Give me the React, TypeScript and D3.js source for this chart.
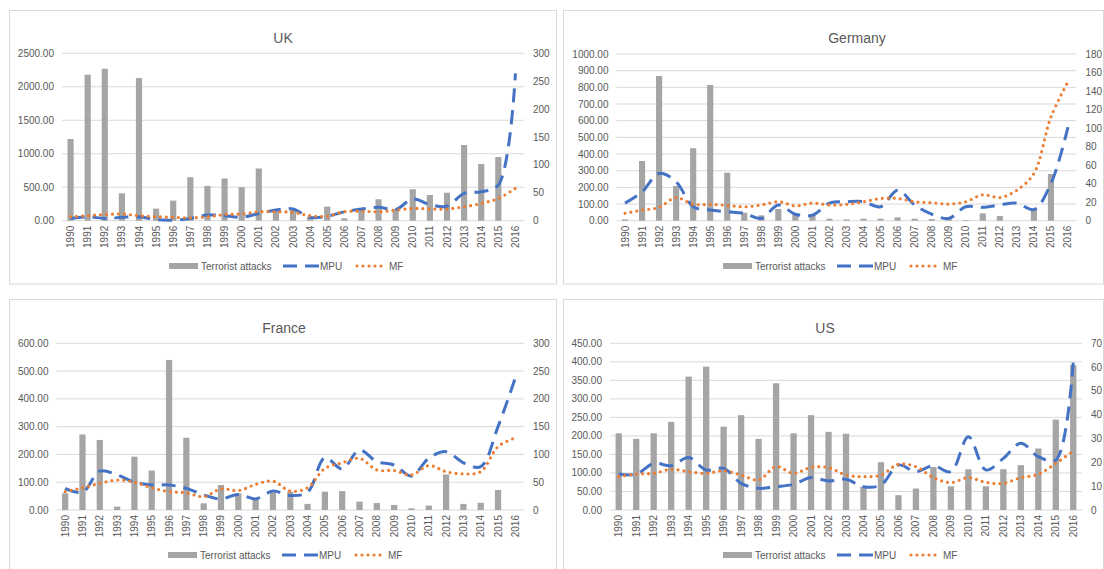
import * as React from 'react';
import * as d3 from 'd3';

// categories
const years = [
  '1990', '1991', '1992', '1993', '1994', '1995', '1996', '1997', '1998',
  '1999', '2000', '2001', '2002', '2003', '2004', '2005', '2006', '2007',
  '2008', '2009', '2010', '2011', '2012', '2013', '2014', '2015', '2016',
];

// UK
const ukAttacks = [1220, 2180, 2270, 410, 2130, 180, 300, 650, 520, 630, 500, 780, 170, 160, 60, 210, 36, 170, 320, 175, 469, 384, 418, 1130, 846, 951, 0];
const ukMPU = [4, 7, 4, 6, 7, 2, 1, 4, 10, 9, 6, 13, 19, 21, 6, 8, 16, 21, 24, 20, 39, 29, 26, 49, 52, 64, 264];
const ukMF = [7, 9, 11, 12, 9, 7, 6, 5, 7, 11, 12, 16, 16, 15, 9, 8, 16, 17, 16, 19, 22, 21, 21, 25, 31, 40, 58];

// Germany
const deAttacks = [8, 358, 868, 208, 435, 814, 288, 48, 32, 70, 44, 40, 12, 8, 12, 12, 20, 12, 10, 20, 4, 44, 28, 0, 72, 280, 0];
const deMPU = [19, 31, 51, 42, 15, 11.5, 9.7, 8, 2.5, 17, 7, 6, 19, 20.5, 20.5, 15, 33, 17, 7, 2.5, 15, 14.4, 17, 19, 12, 40, 101];
const deMF = [8, 11.5, 14.4, 25, 17.6, 17.6, 16.6, 15, 17, 20.5, 16, 19, 17, 17.6, 20.5, 24, 24, 20.5, 19.4, 18, 20.5, 28, 25, 33, 51, 112, 150];

// France
const frAttacks = [60, 272, 252, 12, 192, 142, 540, 260, 24, 90, 60, 42, 64, 66, 22, 66, 68, 30, 25, 18, 6, 16, 128, 22, 26, 72, 0];
const frMPU = [39, 32, 70, 63, 50, 45, 45, 39, 27, 20, 28, 20, 34, 26, 32, 94, 74, 108, 87, 81, 61, 93, 105, 85, 78, 150, 238];
const frMF = [33, 40, 48, 54, 50, 40, 33, 31, 24, 38, 35, 46, 52, 34, 40, 75, 85, 93, 72, 71, 63, 80, 69, 65, 69, 114, 130];

// US
const usAttacks = [207, 192, 207, 238, 360, 387, 225, 256, 192, 342, 207, 256, 211, 206, 63, 129, 40, 58, 116, 64, 110, 64, 110, 121, 166, 244, 391];
const usMPU = [15.1, 15, 19.6, 18.6, 22, 16.8, 17.5, 11.2, 9.1, 9.8, 10.8, 13.6, 12.2, 12.9, 9.8, 10.5, 18.9, 16.1, 18.6, 16.1, 30.8, 16.8, 21.7, 28, 22.4, 21, 62.3];
const usMF = [14, 15.1, 15.4, 17.1, 16.1, 15.4, 16.5, 14.7, 12.6, 18.2, 15.4, 17.9, 17.8, 14.7, 14, 14.7, 19.2, 18.2, 13.6, 11.5, 13.6, 11.6, 11.2, 13.6, 15, 19.6, 24.8];

// legend labels
const legendLabels = ['Terrorist attacks', 'MPU', 'MF'];

const FONT = '"Liberation Sans", Arial, sans-serif';
const TEXT = '#595959';
const GRID = '#D9D9D9';
const BAR = '#A5A5A5';
const BLUE = '#4472C4';
const ORANGE = '#ED7D31';

interface PanelProps {
  title: string;
  attacks: number[];
  mpu: number[];
  mf: number[];
  box: [number, number, number, number];
  plot: { left: number; right: number; top: number; bottom: number };
  leftMax: number;
  leftStep: number;
  rightMax: number;
  rightStep: number;
  titleX: number;
  titleY: number;
  legendX: number;
  legendY: number;
}

function Panel(p: PanelProps) {
  const x = d3.scaleBand<string>().domain(years).range([p.plot.left, p.plot.right]).padding(0);
  const yL = d3.scaleLinear().domain([0, p.leftMax]).range([p.plot.bottom, p.plot.top]);
  const yR = d3.scaleLinear().domain([0, p.rightMax]).range([p.plot.bottom, p.plot.top]);
  const leftTicks = d3.range(0, p.leftMax + p.leftStep / 2, p.leftStep);
  const rightTicks = d3.range(0, p.rightMax + p.rightStep / 2, p.rightStep);
  const bw = x.bandwidth() * 0.36;
  const cx = (i: number) => (x(years[i]) ?? 0) + x.bandwidth() / 2;

  const line = d3
    .line<number>()
    .x((_d, i) => cx(i))
    .y((d) => yR(d))
    .curve(d3.curveCatmullRom.alpha(0.5));

  const lx = p.legendX;
  const ly = p.legendY;

  return (
    <g>
      <rect x={p.box[0]} y={p.box[1]} width={p.box[2]} height={p.box[3]} fill="#fff" stroke={GRID} strokeWidth={1} />
      <text x={p.titleX} y={p.titleY} textAnchor="middle" fontSize={14} fill={TEXT}>{p.title}</text>

      {leftTicks.map((t) => (
        <line key={'g' + t} x1={p.plot.left} x2={p.plot.right} y1={yL(t)} y2={yL(t)} stroke={GRID} strokeWidth={1} />
      ))}
      {leftTicks.map((t) => (
        <text key={'l' + t} x={p.plot.left - 8} y={yL(t)} dy="0.35em" textAnchor="end" fontSize={10} fill={TEXT}>
          {t.toFixed(2)}
        </text>
      ))}
      {rightTicks.map((t) => (
        <text key={'r' + t} x={p.plot.right + 9} y={yR(t)} dy="0.35em" textAnchor="start" fontSize={10} fill={TEXT}>
          {t}
        </text>
      ))}
      {years.map((yr) => (
        <text
          key={'x' + yr}
          transform={`translate(${(x(yr) ?? 0) + x.bandwidth() / 2 + 3.5},${p.plot.bottom + 5}) rotate(-90)`}
          textAnchor="end"
          fontSize={10}
          fill={TEXT}
        >
          {yr}
        </text>
      ))}

      {p.attacks.map((v, i) => (
        <rect key={'b' + i} x={cx(i) - bw / 2} y={yL(v)} width={bw} height={p.plot.bottom - yL(v)} fill={BAR} />
      ))}

      <path d={line(p.mpu) ?? ''} fill="none" stroke={BLUE} strokeWidth={3} strokeDasharray="14 8" />
      <path d={line(p.mf) ?? ''} fill="none" stroke={ORANGE} strokeWidth={3.2} strokeDasharray="0 6" strokeLinecap="round" />

      <rect x={lx} y={ly - 3} width={29} height={6} fill={BAR} />
      <text x={lx + 32} y={ly} dy="0.35em" fontSize={10} fill={TEXT}>{legendLabels[0]}</text>
      <line x1={lx + 114} x2={lx + 150} y1={ly} y2={ly} stroke={BLUE} strokeWidth={3} strokeDasharray="14 8" />
      <text x={lx + 151} y={ly} dy="0.35em" fontSize={10} fill={TEXT}>{legendLabels[1]}</text>
      <line x1={lx + 188} x2={lx + 217} y1={ly} y2={ly} stroke={ORANGE} strokeWidth={3.2} strokeDasharray="0 6" strokeLinecap="round" />
      <text x={lx + 220} y={ly} dy="0.35em" fontSize={10} fill={TEXT}>{legendLabels[2]}</text>
    </g>
  );
}

export default function App() {
  return (
    <svg
      width={1104}
      height={569}
      style={{ position: 'absolute', left: 0, top: 0, fontFamily: FONT, background: '#fff' }}
    >
      <rect x={0} y={0} width={1104} height={569} fill="#fff" />
      <Panel
        title="UK"
        attacks={ukAttacks}
        mpu={ukMPU}
        mf={ukMF}
        box={[9.5, 10.5, 547, 273.5]}
        plot={{ left: 62, right: 524, top: 53.3, bottom: 220.7 }}
        leftMax={2500}
        leftStep={500}
        rightMax={300}
        rightStep={50}
        titleX={283}
        titleY={43}
        legendX={169}
        legendY={266}
      />
      <Panel
        title="Germany"
        attacks={deAttacks}
        mpu={deMPU}
        mf={deMF}
        box={[563.5, 10.5, 540, 273.5]}
        plot={{ left: 616.5, right: 1076.5, top: 54, bottom: 220.7 }}
        leftMax={1000}
        leftStep={100}
        rightMax={180}
        rightStep={20}
        titleX={857}
        titleY={43}
        legendX={723}
        legendY={266}
      />
      <Panel
        title="France"
        attacks={frAttacks}
        mpu={frMPU}
        mf={frMF}
        box={[9.5, 299.5, 547, 280]}
        plot={{ left: 56.5, right: 524, top: 343.3, bottom: 510 }}
        leftMax={600}
        leftStep={100}
        rightMax={300}
        rightStep={50}
        titleX={284}
        titleY={333}
        legendX={168}
        legendY={555}
      />
      <Panel
        title="US"
        attacks={usAttacks}
        mpu={usMPU}
        mf={usMF}
        box={[563.5, 299.5, 540, 280]}
        plot={{ left: 610, right: 1082, top: 343.3, bottom: 510 }}
        leftMax={450}
        leftStep={50}
        rightMax={70}
        rightStep={10}
        titleX={825}
        titleY={333}
        legendX={723}
        legendY={555}
      />
    </svg>
  );
}
